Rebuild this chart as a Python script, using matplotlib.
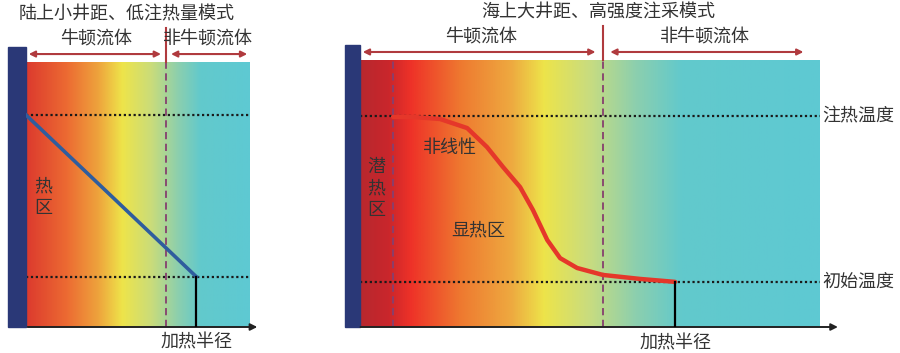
import numpy as np
import matplotlib.pyplot as plt
from matplotlib.colors import LinearSegmentedColormap

plt.rcParams['font.family'] = ['Noto Sans CJK SC', 'DejaVu Sans']

# left panel: onshore, small well spacing
left_title = '陆上小井距、低注热量模式'
left_inject_T = 0.80
left_init_T = 0.19
left_boundary = 0.625
left_heat_r = 0.76

# right panel: offshore, large well spacing
right_title = '海上大井距、高强度注采模式'
right_inject_T = 0.79
right_init_T = 0.17
right_latent = 0.072
right_boundary = 0.528
right_heat_r = 0.685
curve_r = [0.072, 0.12, 0.174, 0.233, 0.276, 0.311, 0.348, 0.376, 0.407, 0.435, 0.472,
           0.528, 0.609, 0.685]
curve_T = [0.787, 0.786, 0.779, 0.745, 0.674, 0.599, 0.524, 0.438, 0.326, 0.258, 0.221,
           0.195, 0.180, 0.169]

newton_lbl = '牛顿流体'
non_newton_lbl = '非牛顿流体'
xlabel = '加热半径'

RED = '#b03a3e'
PURPLE = '#86406e'
WELL = '#2a3877'

left_cmap = LinearSegmentedColormap.from_list('l', [
    (0.0, '#dc3a2e'), (0.18, '#ec6a32'), (0.32, '#eea23c'), (0.43, '#eee44a'),
    (0.56, '#cadc7a'), (0.68, '#8ccfae'), (0.78, '#62c9cc'), (1.0, '#5ec9d3')])
right_cmap = LinearSegmentedColormap.from_list('r', [
    (0.0, '#b8282e'), (0.06, '#c9262c'), (0.11, '#ee3228'), (0.22, '#ee7a30'),
    (0.33, '#eeaa40'), (0.40, '#ede44a'), (0.50, '#c8dc80'), (0.60, '#8ccfae'),
    (0.70, '#62c9cc'), (1.0, '#5ec9d3')])

fig = plt.figure(figsize=(9, 3.53), dpi=100)
W, H = 900, 353


def panel(px0, px1, py_top, py_bot):
    ax = fig.add_axes([px0 / W, 1 - py_bot / H, (px1 - px0) / W, (py_bot - py_top) / H])
    ax.set_xlim(0, 1)
    ax.set_ylim(0, 1)
    ax.axis('off')
    return ax


def draw(ax, cmap, title, inj, init, bound, heat, bar_w, label_x, fs=13):
    grad = np.linspace(0, 1, 512).reshape(1, -1)
    ax.imshow(grad, extent=(0, 1, 0, 1), aspect='auto', cmap=cmap, zorder=0)
    # well bar
    ax.add_patch(plt.Rectangle((-bar_w, 0), bar_w, 1.056, color=WELL, clip_on=False, zorder=3))
    # temperature lines
    ax.plot([0, 1], [inj, inj], color='#1a1a1a', ls=(0, (1, 1.2)), lw=1.6, zorder=2)
    ax.plot([0, 1], [init, init], color='#1a1a1a', ls=(0, (1, 1.2)), lw=1.6, zorder=2)
    # Newtonian / non-Newtonian boundary
    ax.plot([bound, bound], [0, 1], color=PURPLE, ls=(0, (4, 2.5)), lw=1.3, zorder=2)
    ax.plot([bound, bound], [1, 1.128], color=RED, lw=1.5, clip_on=False)
    ax.annotate('', xy=(0, 1.03), xytext=(bound - 0.01, 1.03),
                arrowprops=dict(arrowstyle='<|-|>', color=RED, lw=1.5, mutation_scale=9),
                annotation_clip=False)
    ax.annotate('', xy=(bound + 0.01, 1.03), xytext=(label_x, 1.03),
                arrowprops=dict(arrowstyle='<|-|>', color=RED, lw=1.5, mutation_scale=9),
                annotation_clip=False)
    ax.text(bound / 2, 1.085, newton_lbl, ha='center', va='center', fontsize=fs, color='#333333')
    ax.text((bound + label_x) / 2, 1.085, non_newton_lbl, ha='center', va='center', fontsize=fs,
            color='#333333')
    # heating radius
    ax.plot([heat, heat], [0, init], color='black', lw=1.6, zorder=4)
    # x axis
    ax.annotate('', xy=(1.045, 0), xytext=(-0.005, 0),
                arrowprops=dict(arrowstyle='-|>', color='#222222', lw=1.4, mutation_scale=10),
                annotation_clip=False)
    ax.text(heat, -0.06, xlabel, ha='center', va='center', fontsize=fs, color='#333333')


axl = panel(26, 250, 62, 327)
draw(axl, left_cmap, left_title, left_inject_T, left_init_T, left_boundary, left_heat_r, 0.08, 1.0)
axl.plot([0, left_heat_r], [left_inject_T, left_init_T], color='#2f5d9e', lw=2.6, zorder=3)
axl.text(0.45, 1.18, left_title, ha='center', va='center', fontsize=13, color='#333333')
axl.text(0.075, 0.49, '热\n区', ha='center', va='center', fontsize=13, color='#333333',
         linespacing=1.3)

axr = panel(360, 820, 60, 327)
draw(axr, right_cmap, right_title, right_inject_T, right_init_T, right_boundary, right_heat_r,
     0.033, 0.97)
axr.plot([right_latent, right_latent], [0, 1], color=PURPLE, ls=(0, (4, 2.5)), lw=1.3, zorder=2)
axr.plot(curve_r, curve_T, color='#e5372a', lw=3.2, solid_capstyle='round',
         solid_joinstyle='round', zorder=3)
axr.text(0.518, 1.18, right_title, ha='center', va='center', fontsize=13, color='#333333')
axr.text(0.036, 0.52, '潜\n热\n区', ha='center', va='center', fontsize=13, color='#333333',
         linespacing=1.25)
axr.text(0.196, 0.67, '非线性', ha='center', va='center', fontsize=13, color='#333333')
axr.text(0.257, 0.363, '显热区', ha='center', va='center', fontsize=13, color='#333333')
axr.text(1.005, right_inject_T, '注热温度', ha='left', va='center', fontsize=13, color='#333333')
axr.text(1.005, right_init_T, '初始温度', ha='left', va='center', fontsize=13, color='#333333')

fig.savefig('out.png', dpi=100)
